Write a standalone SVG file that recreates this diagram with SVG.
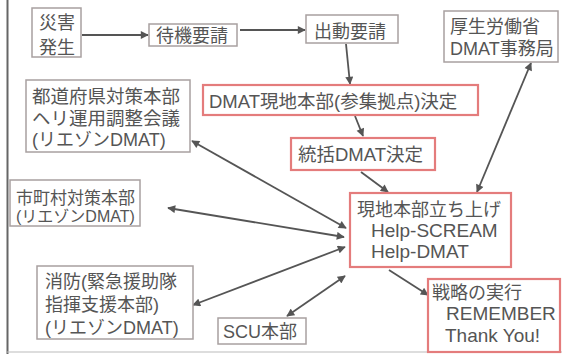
<svg xmlns="http://www.w3.org/2000/svg" width="562" height="354" viewBox="0 0 562 354">
<defs>
<style>
.g{fill:#fff;stroke:#a8a0a0;stroke-width:1.5}
.r{fill:#fff;stroke:#e47c7c;stroke-width:2.2}
text{font-family:"Liberation Sans","Noto Sans CJK JP",sans-serif;fill:#555;font-size:18px}
.c{stroke:#555;stroke-width:1.8;fill:none}
</style>
<marker id="ah" viewBox="0 0 10 10" refX="9" refY="5" markerWidth="9" markerHeight="8" markerUnits="userSpaceOnUse" orient="auto-start-reverse">
<path d="M0,0 L10,5 L0,10 z" fill="#555"/>
</marker>
</defs>
<rect x="0" y="0" width="562" height="354" fill="#fff"/>
<line x1="7.5" y1="0" x2="7.5" y2="354" stroke="#666" stroke-width="2"/>
<line x1="7" y1="352" x2="562" y2="352" stroke="#bbb" stroke-width="1"/>

<g id="connectors">
<line class="c" x1="82" y1="35" x2="148" y2="35" marker-end="url(#ah)"/>
<line class="c" x1="240" y1="30" x2="305" y2="30" marker-end="url(#ah)"/>
<line class="c" x1="346" y1="44" x2="350" y2="84" marker-end="url(#ah)"/>
<line class="c" x1="355" y1="116" x2="363" y2="136" marker-end="url(#ah)"/>
<line class="c" x1="361" y1="172" x2="388" y2="192" marker-end="url(#ah)"/>
<line class="c" x1="531" y1="63" x2="477" y2="192" marker-start="url(#ah)" marker-end="url(#ah)"/>
<line class="c" x1="192" y1="141" x2="346" y2="228" marker-start="url(#ah)" marker-end="url(#ah)"/>
<line class="c" x1="168" y1="208" x2="344" y2="237" marker-start="url(#ah)" marker-end="url(#ah)"/>
<line class="c" x1="193" y1="305" x2="345" y2="247" marker-start="url(#ah)" marker-end="url(#ah)"/>
<line class="c" x1="287" y1="316" x2="345" y2="276" marker-start="url(#ah)" marker-end="url(#ah)"/>
<line class="c" x1="389" y1="270" x2="428" y2="295" marker-end="url(#ah)"/>
</g>

<g id="saigai">
<rect class="g" x="32" y="8" width="49" height="49"/>
<text x="39" y="29">災害</text>
<text x="39" y="54">発生</text>
</g>
<g id="taiki">
<rect class="g" x="149" y="24" width="88" height="22"/>
<text x="156" y="42">待機要請</text>
</g>
<g id="shutsudo">
<rect class="g" x="306" y="15" width="92" height="28"/>
<text x="314" y="38">出動要請</text>
</g>
<g id="kosei">
<rect class="g" x="444" y="11" width="114" height="51"/>
<text x="450" y="33">厚生労働省</text>
<text x="450" y="55">DMAT事務局</text>
</g>
<g id="dmat-genchi">
<rect class="r" x="203" y="85" width="275" height="30"/>
<text x="209" y="108" style="font-size:18.5px">DMAT現地本部(参集拠点)決定</text>
</g>
<g id="tokatsu">
<rect class="r" x="291" y="138" width="144" height="32"/>
<text x="298" y="161" style="font-size:18.5px">統括DMAT決定</text>
</g>
<g id="todofuken">
<rect class="g" x="26" y="80" width="164" height="72"/>
<text x="32" y="103" style="font-size:18.5px">都道府県対策本部</text>
<text x="32" y="125" style="font-size:18.5px">ヘリ運用調整会議</text>
<text x="32" y="146">(リエゾンDMAT)</text>
</g>
<g id="shichoson">
<rect class="g" x="10" y="180" width="130" height="46"/>
<text x="16" y="204" style="font-size:17px">市町村対策本部</text>
<text x="16" y="222" style="font-size:16px">(リエゾンDMAT)</text>
</g>
<g id="genchi">
<rect class="r" x="350" y="193" width="161" height="74"/>
<text x="357" y="216">現地本部立ち上げ</text>
<text x="371" y="237" style="font-size:19px">Help-SCREAM</text>
<text x="371" y="258" style="font-size:19px">Help-DMAT</text>
</g>
<g id="shobo">
<rect class="g" x="37" y="266" width="156" height="73"/>
<text x="45" y="288">消防(緊急援助隊</text>
<text x="45" y="311">指揮支援本部)</text>
<text x="45" y="334">(リエゾンDMAT)</text>
</g>
<g id="scu">
<rect class="g" x="218" y="318" width="88" height="26"/>
<text x="223" y="338">SCU本部</text>
</g>
<g id="senryaku">
<rect class="r" x="428" y="279" width="132" height="73"/>
<text x="432" y="299">戦略の実行</text>
<text x="446" y="320" style="font-size:19px">REMEMBER</text>
<text x="445" y="342" style="font-size:19px">Thank You!</text>
</g>
</svg>
